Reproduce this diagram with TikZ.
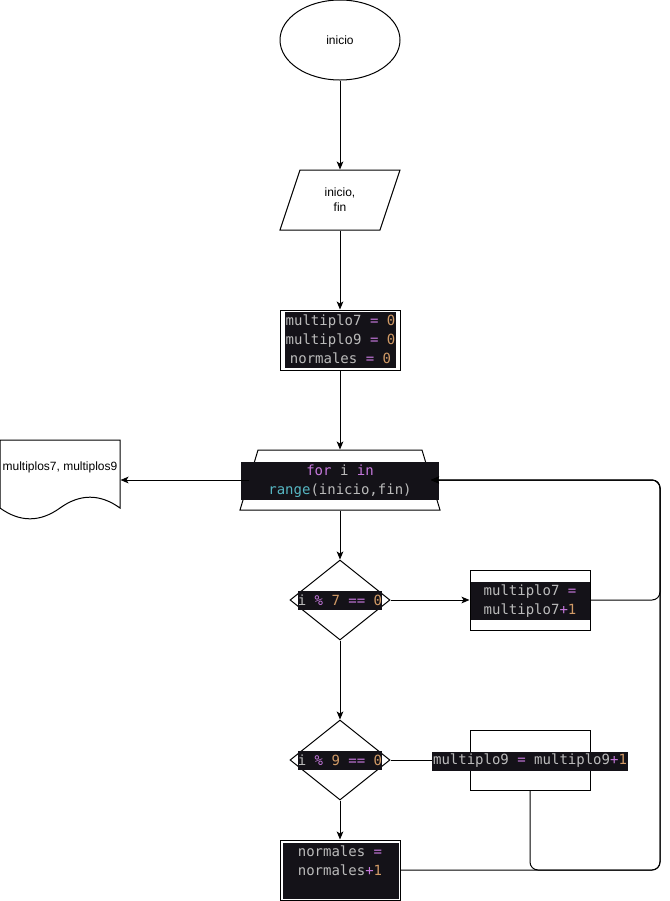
\documentclass[tikz,border=0pt]{standalone}
\usepackage{fontspec}
\setmainfont{Liberation Sans}
\newfontfamily\codefont{DejaVu Sans Mono}
\usetikzlibrary{shapes.geometric,arrows.meta}
\definecolor{codebg}{HTML}{141218}
\definecolor{codefg}{HTML}{BBBBBB}
\definecolor{kwp}{HTML}{C678DD}
\definecolor{numc}{HTML}{D19A66}
\definecolor{fnc}{HTML}{56B6C2}
\def\px{0.75pt}
\newcommand{\ckw}[1]{\textcolor{kwp}{#1}}
\newcommand{\cnum}[1]{\textcolor{numc}{#1}}
\newcommand{\cfn}[1]{\textcolor{fnc}{#1}}
\begin{document}
\begin{tikzpicture}[x=0.75pt,y=-0.75pt, line width=0.75pt,
  arr/.style={-{Stealth[length=6pt,width=5pt,inset=1.5pt]}},
  codelbl/.style={fill=codebg, text=codefg, font=\codefont\fontsize{10.5pt}{14.25pt}\selectfont, align=center, inner sep=0pt},
  lbl/.style={font=\fontsize{9pt}{11.25pt}\selectfont, align=center},
  pbox/.style={draw, rectangle, minimum width=120*\px, minimum height=60*\px, inner sep=0pt},
  dec/.style={draw, diamond, minimum width=100*\px, minimum height=80*\px, inner sep=0pt},
  rc/.style={rounded corners=6pt}]
\useasboundingbox (0,0) rectangle (669,901);

% start
\node[draw, ellipse, minimum width=120*\px, minimum height=80*\px, lbl] (start) at (340,40) {inicio};

% input parallelogram
\draw (300,170) -- (400,170) -- (380,230) -- (280,230) -- cycle;
\node[minimum width=120*\px, minimum height=60*\px, inner sep=0pt, lbl] (inp) at (340,200) {inicio,\\fin};

% init box
\node[pbox] (init) at (340,340) {};
\node[codelbl, minimum width=111*\px, minimum height=56*\px] (initc) at (340.5,339.5) {multiplo7 \ckw{=} \cnum{0}\\multiplo9 \ckw{=} \cnum{0}\\normales \ckw{=} \cnum{0}};

% loop
\draw (258,450) -- (422,450) -- (440,510) -- (240,510) -- cycle;
\node[minimum width=200*\px, minimum height=60*\px, inner sep=0pt] (loop) at (340,480) {};
\coordinate (loopE) at (431,480);
\coordinate (loopW) at (249,480);
\node[codelbl, minimum width=198*\px, minimum height=38*\px] (loopc) at (340,481) {\ckw{for} i \ckw{in}\\\cfn{range}(inicio,fin)};

% document
\draw (0,440) -- (120,440) -- (120,508) .. controls (100,493.6) and (80,493.6) .. (60,508) .. controls (40,522.4) and (20,522.4) .. (0,508) -- cycle;
\node[minimum width=120*\px, minimum height=80*\px, inner sep=0pt] (doc) at (60,480) {};
\node[lbl] (doctxt) at (60,467) {multiplos7, multiplos9};

% decision 7
\node[dec] (d7) at (340,600) {};
\node[codelbl, minimum height=19*\px] (d7c) at (340,600.5) {i \ckw{\%} \cnum{7} \ckw{==} \cnum{0}};

% box multiplo7
\node[pbox] (m7) at (530,600) {};
\node[codelbl, minimum width=119*\px, minimum height=38*\px] (m7c) at (530,601) {multiplo7 \ckw{=}\\multiplo7\ckw{+}\cnum{1}};

% decision 9
\node[dec] (d9) at (340,760) {};
\node[codelbl, minimum height=19*\px] (d9c) at (340,760.5) {i \ckw{\%} \cnum{9} \ckw{==} \cnum{0}};

% box multiplo9
\node[pbox] (m9) at (530,760) {};
\draw[arr] (d9.east) -- (m9.west);
\node[codelbl, minimum height=19*\px, inner xsep=0.5pt] (m9c) at (530,761) {multiplo9 \ckw{=} multiplo9\ckw{+}\cnum{1}};

% normales box
\node[pbox, fill=white] (norm) at (340,870) {};
\node[fill=codebg, minimum width=116*\px, minimum height=56*\px, inner sep=0pt] (normbg) at (340.5,870.5) {};
\node[font=\codefont\fontsize{10.5pt}{14.25pt}\selectfont, text=codefg, align=center, inner sep=0pt] (normc) at (340,860.5) {normales \ckw{=}\\normales\ckw{+}\cnum{1}};

% connectors
\draw[arr] (start.south) -- (inp.north);
\draw[arr] (inp.south) -- (init.north);
\draw[arr] (init.south) -- (loop.north);
\draw[arr] (loop.south) -- (d7.north);
\draw[arr] (loopW) -- (doc.east);
\draw[arr] (d7.east) -- (m7.west);
\draw[arr] (d7.south) -- (d9.north);
\draw[arr] (d9.south) -- (norm.north);
\draw[arr, rc] (m7.east) -- (660,600) -- (660,480) -- (loopE);
\draw[arr, rc] (m9.south) -- (530,870) -- (660,870) -- (660,480) -- (loopE);
\draw[arr, rc] (norm.east) -- (660,870) -- (660,480) -- (loopE);
\end{tikzpicture}
\end{document}
